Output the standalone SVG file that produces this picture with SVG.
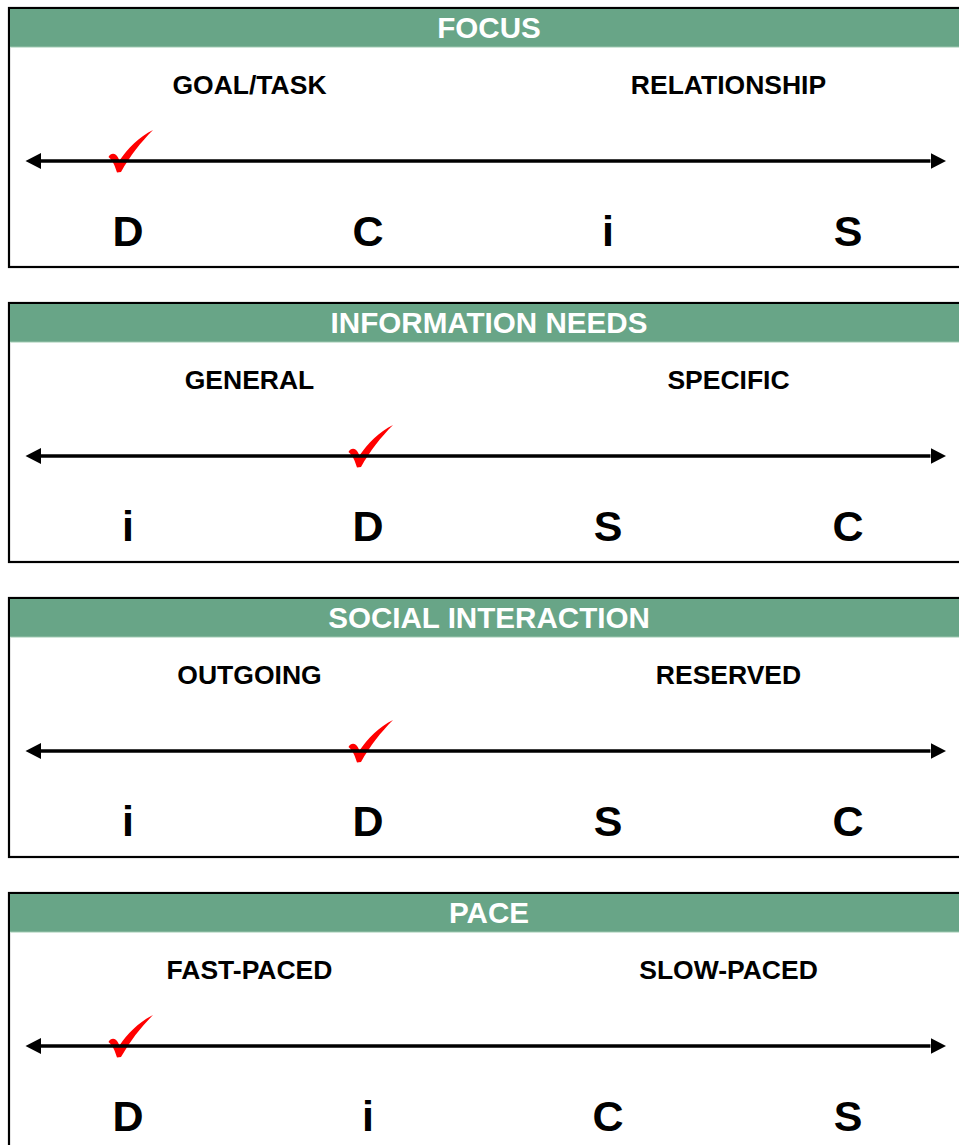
<svg xmlns="http://www.w3.org/2000/svg" width="959" height="1145" viewBox="0 0 959 1145">
<style>
.box{fill:#fff;stroke:#000;stroke-width:2.2}
.hdr{fill:#68A587}
.hl{stroke:#cfe5d8;stroke-width:1.2}
.ht{font-family:"Liberation Sans",Arial,sans-serif;font-weight:bold;font-size:29.6px;fill:#fff;text-anchor:middle}
.st{font-family:"Liberation Sans",Arial,sans-serif;font-weight:bold;font-size:26.5px;fill:#000;text-anchor:middle}
.lt{font-family:"Liberation Sans",Arial,sans-serif;font-weight:bold;font-size:43px;fill:#000;text-anchor:middle}
.ax{stroke:#000;stroke-width:3.6;fill:none;marker-start:url(#ah);marker-end:url(#ah)}
.ck{fill:#ff0000}
</style>
<defs>
<marker id="ah" markerUnits="userSpaceOnUse" markerWidth="16" markerHeight="18" viewBox="0 -9 16 18" refX="0" refY="0" orient="auto-start-reverse">
<path d="M0,-8 L15.5,0 L0,8 Z" fill="#000"/>
</marker>
<path id="check" d="M-9.5,-14 C-7,-19 -2,-18 0,-13.5 L1.5,-10.5 C10,-23 21,-34 35,-41 C23,-29 12,-15 3,1 L-1,1.5 C-3,-5 -5,-10 -9.5,-14 Z"/>
</defs>

<g id="panel-focus">
<rect class="box" x="9" y="8" width="1000" height="259"/>
<rect class="hdr" x="10" y="9" width="999" height="38"/>
<line class="hl" x1="10" y1="47.4" x2="1009" y2="47.4"/>
<text class="ht" x="489" y="38">FOCUS</text>
<text class="st" x="249.5" y="94">GOAL/TASK</text>
<text class="st" x="728.5" y="94">RELATIONSHIP</text>
<text class="lt" x="128" y="245.5">D</text>
<text class="lt" x="368" y="245.5">C</text>
<text class="lt" x="608" y="245.5">i</text>
<text class="lt" x="848" y="245.5">S</text>
<use class="ck" href="#check" x="118" y="171"/>
</g>

<g id="panel-information-needs" transform="translate(0,295)">
<rect class="box" x="9" y="8" width="1000" height="259"/>
<rect class="hdr" x="10" y="9" width="999" height="38"/>
<line class="hl" x1="10" y1="47.4" x2="1009" y2="47.4"/>
<text class="ht" x="489" y="38">INFORMATION NEEDS</text>
<text class="st" x="249.5" y="94">GENERAL</text>
<text class="st" x="728.5" y="94">SPECIFIC</text>
<text class="lt" x="128" y="245.5">i</text>
<text class="lt" x="368" y="245.5">D</text>
<text class="lt" x="608" y="245.5">S</text>
<text class="lt" x="848" y="245.5">C</text>
<use class="ck" href="#check" x="358" y="171"/>
</g>

<g id="panel-social-interaction" transform="translate(0,590)">
<rect class="box" x="9" y="8" width="1000" height="259"/>
<rect class="hdr" x="10" y="9" width="999" height="38"/>
<line class="hl" x1="10" y1="47.4" x2="1009" y2="47.4"/>
<text class="ht" x="489" y="38">SOCIAL INTERACTION</text>
<text class="st" x="249.5" y="94">OUTGOING</text>
<text class="st" x="728.5" y="94">RESERVED</text>
<text class="lt" x="128" y="245.5">i</text>
<text class="lt" x="368" y="245.5">D</text>
<text class="lt" x="608" y="245.5">S</text>
<text class="lt" x="848" y="245.5">C</text>
<use class="ck" href="#check" x="358" y="171"/>
</g>

<g id="panel-pace" transform="translate(0,885)">
<rect class="box" x="9" y="8" width="1000" height="300"/>
<rect class="hdr" x="10" y="9" width="999" height="38"/>
<line class="hl" x1="10" y1="47.4" x2="1009" y2="47.4"/>
<text class="ht" x="489" y="38">PACE</text>
<text class="st" x="249.5" y="94">FAST-PACED</text>
<text class="st" x="728.5" y="94">SLOW-PACED</text>
<text class="lt" x="128" y="245.5">D</text>
<text class="lt" x="368" y="245.5">i</text>
<text class="lt" x="608" y="245.5">C</text>
<text class="lt" x="848" y="245.5">S</text>
<use class="ck" href="#check" x="118" y="171"/>
</g>

<g id="connectors">
<line class="ax" x1="41" y1="161" x2="930.5" y2="161"/>
<line class="ax" x1="41" y1="456" x2="930.5" y2="456"/>
<line class="ax" x1="41" y1="751" x2="930.5" y2="751"/>
<line class="ax" x1="41" y1="1046" x2="930.5" y2="1046"/>
</g>
</svg>
